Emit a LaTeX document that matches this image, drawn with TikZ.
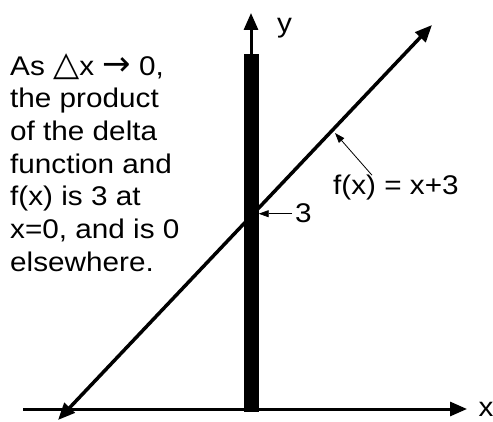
\documentclass[tikz,border=0pt]{standalone}
\usepackage{fontspec}
\setmainfont{Liberation Sans}[FakeStretch=1.1]
\newfontfamily\symfont{DejaVu Sans}
\usetikzlibrary{arrows.meta}
\newcommand\bigsym[1]{{\symfont\fontsize{34}{34}\selectfont #1}}

\begin{document}
\begin{tikzpicture}[x=1pt,y=1pt,
  axis/.style={line width=3pt,-{Triangle[length=17pt,width=14pt]}},
  pointer/.style={line width=0.8pt,-{Triangle[length=10pt,width=7pt]}},
  lbl/.style={font=\fontsize{27}{32.7}\selectfont,inner sep=0pt}]
\useasboundingbox (0,0) rectangle (493,421);
% axes
\coordinate (xl) at (23,12);
\coordinate (xr) at (467,12);
\coordinate (yt) at (251,408);
\draw[axis] (xl) -- (xr);
\node[lbl,anchor=base] (xlab) at (486,5) {x};
\node[fill,inner sep=0pt,minimum width=15pt,minimum height=358pt] (bar) at (251,188) {};
\draw[axis] (bar.north) -- (yt);
\node[lbl,anchor=base west] (ylab) at (277,388) {y};
% f(x) = x+3
\coordinate (fa) at (58,1);
\coordinate (fb) at (432,396);
\draw[line width=3.5pt,{Triangle[length=17pt,width=14pt]}-{Triangle[length=17pt,width=14pt]}] (fa) -- (fb);
\node[lbl,anchor=base west] (three) at (295,198) {3};
\draw[pointer,shorten <=3pt] (three.west) -- (three.west -| bar.east);
\node[lbl,anchor=base west] (flab) at (333,226) {f(x) = x+3};
\coordinate (ftip) at (335,288);
\draw[pointer] ([xshift=39pt]flab.north west) -- (ftip);
% note
\node[lbl,anchor=north west,align=left] (note) at (10,368) {As \bigsym{△}x \bigsym{→} 0,\\
the product\\
of the delta\\
function and\\
f(x) is 3 at\\
x=0, and is 0\\
elsewhere.};
\end{tikzpicture}
\end{document}
